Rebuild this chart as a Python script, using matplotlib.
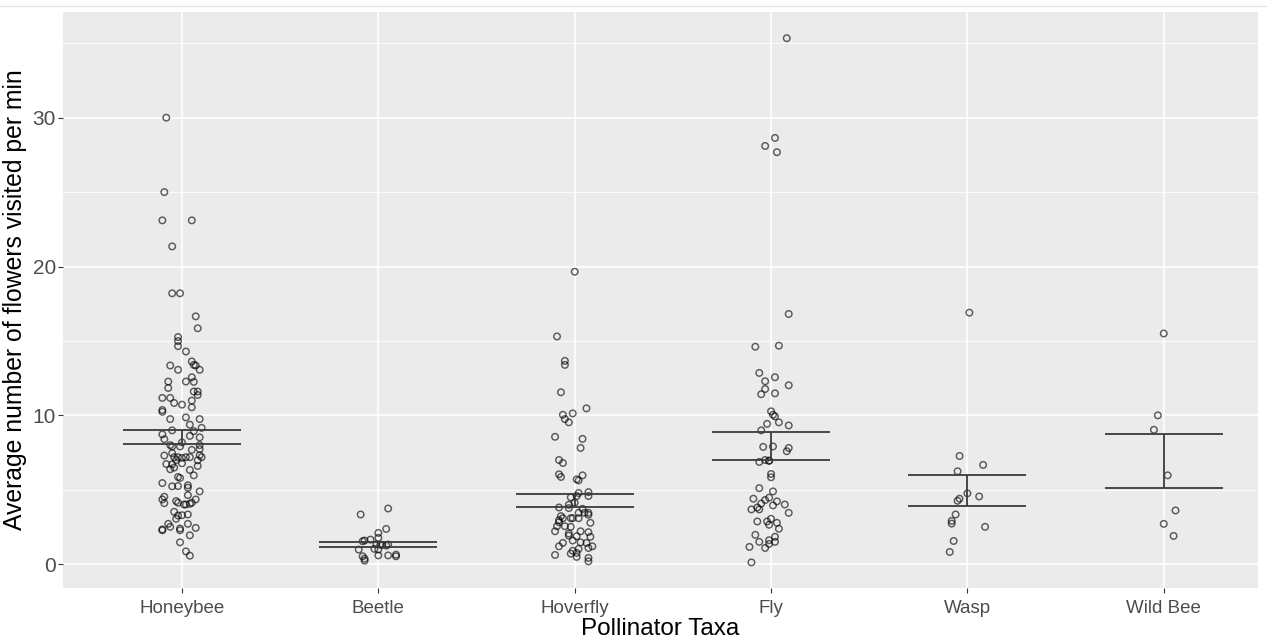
import numpy as np
import matplotlib
matplotlib.use("Agg")
import matplotlib.pyplot as plt
from matplotlib.lines import Line2D

# ---------------- data ----------------
categories = ["Honeybee", "Beetle", "Hoverfly", "Fly", "Wasp", "Wild Bee"]

honeybee = [30.0, 25.0, 23.1, 23.1, 21.35, 18.2, 18.2, 16.65, 15.85, 15.26, 14.99, 14.65,
            14.29, 13.62, 13.39, 13.35, 13.35, 13.06, 13.06, 12.56, 12.27, 11.84, 12.27, 12.25,
            11.6, 11.6, 11.37, 11.17, 11.17, 10.83, 10.72, 10.99, 10.54, 10.36, 10.24, 9.75,
            9.86, 9.75, 9.37, 9.16, 8.99, 8.72, 8.40, 8.94, 8.62, 8.52, 8.18, 8.0, 7.91, 7.91,
            8.0, 7.73, 7.68, 7.30, 7.46, 7.19, 7.19, 7.14, 7.19, 7.19, 7.32, 7.19, 6.98, 7.0,
            6.78, 6.71, 6.73, 6.60, 6.38, 6.49, 6.33, 5.97, 5.86, 5.79, 5.45, 5.23, 5.25, 5.30,
            5.14, 4.89, 4.64, 4.53, 4.35, 4.10, 4.24, 4.13, 4.01, 4.01, 4.06, 4.13, 4.35, 3.52,
            3.05, 3.27, 3.29, 3.34, 2.71, 2.51, 2.33, 2.28, 2.40, 2.28, 2.71, 2.44, 1.94, 1.47,
            0.86, 0.57]
honeybee_jit = [-0.08, -0.09, -0.10, 0.05, -0.05, -0.05, -0.01, 0.07, 0.08, -0.02, -0.02, -0.02,
                0.02, 0.05, 0.06, 0.07, -0.06, -0.02, 0.09, 0.05, -0.07, -0.07, 0.02, 0.06,
                0.06, 0.08, 0.08, -0.10, -0.06, -0.04, 0.0, 0.05, 0.05, -0.10, -0.10, -0.06,
                0.02, 0.09, 0.04, 0.10, -0.05, -0.10, -0.09, 0.06, 0.04, 0.09, 0.0, -0.06, -0.05, -0.01,
                0.09, 0.09, 0.05, -0.09, -0.05, -0.04, -0.02, 0.0, 0.02, 0.04, 0.09, 0.10, 0.08, -0.03,
                0.0, -0.05, -0.08, 0.08, -0.06, -0.04, 0.04, 0.06, -0.02, -0.01, -0.10, -0.05, -0.02, 0.03,
                0.03, 0.09, 0.03, -0.09, -0.10, -0.09, -0.03, -0.02, 0.01, 0.02, 0.04, 0.05, 0.07, -0.04,
                -0.03, -0.02, 0.0, 0.03, -0.07, -0.06, -0.10, -0.10, -0.01, -0.01, 0.03, 0.07, 0.04, -0.01,
                0.02, 0.04]

beetle = [3.34, 3.74, 2.1, 2.37, 1.77, 1.65, 1.54, 1.59, 1.34, 1.30, 1.30, 1.25, 1.32, 0.98,
          1.03, 0.98, 0.53, 0.37, 0.24, 0.59, 0.59, 0.64, 0.53]
beetle_jit = [-0.09, 0.05, 0.0, 0.04, 0.0, -0.04, -0.08, -0.07, -0.01, 0.01, 0.02, 0.04, 0.05, -0.10,
              -0.02, 0.0, -0.08, -0.07, -0.07, 0.0, 0.05, 0.09, 0.09]

hoverfly = [19.65, 15.3, 13.66, 13.39, 11.55, 10.47, 10.04, 9.75, 10.13, 9.53, 8.56, 8.42, 7.81,
            7.0, 6.80, 6.04, 5.86, 5.70, 5.63, 5.97, 4.78, 4.84, 4.58, 4.49, 4.58, 3.81, 3.99,
            3.77, 4.13, 3.72, 3.45, 3.45, 3.45, 3.23, 3.09, 2.96, 2.82, 3.09, 3.09, 3.09, 3.32,
            2.78, 2.21, 2.55, 2.55, 2.51, 2.21, 2.15, 2.06, 1.92, 1.88, 1.84, 1.59, 1.47, 1.43,
            1.20, 1.43, 1.20, 1.03, 1.09, 0.71, 0.76, 0.62, 0.42, 0.19, 0.49, 0.90]
hoverfly_jit = [0.0, -0.09, -0.05, -0.05, -0.07, 0.06, -0.06, -0.05, -0.01, -0.03, -0.10, 0.04, 0.03,
                -0.08, -0.06, -0.08, -0.07, 0.01, 0.02, 0.04, 0.02, 0.07, 0.07, -0.02, 0.01, -0.08, -0.03,
                -0.03, 0.0, 0.04, 0.07, 0.05, 0.02, -0.07, -0.06, -0.08, -0.08, -0.02, -0.01, 0.02, 0.07,
                0.08, -0.10, -0.09, -0.05, -0.02, 0.03, 0.07, -0.03, -0.03, 0.01, 0.08, -0.01, 0.03, 0.06,
                0.09, -0.06, -0.08, 0.02, 0.07, -0.02, 0.01, -0.10, 0.07, 0.07, 0.01, -0.01]

fly = [35.34, 28.64, 27.68, 28.1, 16.81, 14.61, 14.68, 12.85, 12.56, 12.29, 12.02, 11.77, 11.42,
       11.48, 10.27, 10.04, 9.93, 9.43, 9.53, 9.32, 8.99, 7.88, 7.91, 7.81, 7.59, 6.87, 7.0, 6.94,
       6.96, 6.06, 5.84, 5.11, 4.89, 4.40, 4.31, 4.47, 4.22, 4.01, 3.45, 3.68, 3.81, 3.68, 4.08,
       3.95, 2.87, 2.87, 2.65, 2.78, 2.38, 3.05, 1.97, 1.50, 1.16, 1.09, 1.61, 1.84, 1.50, 1.36, 0.12]
fly_jit = [0.08, 0.02, 0.03, -0.03, 0.09, -0.08, 0.04, -0.06, 0.02, -0.03, 0.09, -0.03, -0.05,
           0.02, 0.0, 0.01, 0.02, -0.02, 0.04, 0.09, -0.05, -0.04, 0.01, 0.09, 0.08, -0.06, -0.03, -0.01,
           -0.01, 0.0, 0.0, -0.06, 0.01, -0.09, -0.03, -0.01, 0.03, 0.07, 0.09, -0.10, -0.07, -0.06, -0.05,
           0.01, -0.07, -0.02, -0.01, 0.03, 0.04, 0.0, -0.08, -0.06, -0.11, -0.03, -0.01, 0.02, 0.02, -0.01, -0.10]

wasp = [16.9, 7.27, 6.67, 6.24, 4.76, 4.55, 4.40, 4.26, 3.34, 2.91, 2.73, 2.51, 1.56, 0.82]
wasp_jit = [0.01, -0.04, 0.08, -0.05, 0.0, 0.06, -0.04, -0.05, -0.06, -0.08, -0.08, 0.09, -0.07, -0.09]

wild_bee = [15.5, 10.0, 9.03, 5.97, 3.61, 2.71, 1.90]
wild_bee_jit = [0.0, -0.03, -0.05, 0.02, 0.06, 0.0, 0.05]

err_low = [8.08, 1.13, 3.83, 7.0, 3.88, 5.12]
err_high = [9.0, 1.50, 4.69, 8.85, 5.99, 8.78]

y_ticks = [0, 10, 20, 30]
x_label = "Pollinator Taxa"
y_label = "Average number of flowers visited per min"

# ---------------- plot ----------------
plt.rcParams['font.family'] = ['Liberation Sans', 'DejaVu Sans']
fig = plt.figure(figsize=(12.72, 6.4), dpi=100)
W, H = 1272, 640
ax = fig.add_axes([63 / W, (H - 588) / H, (1258 - 63) / W, (588 - 12) / H])
ax.set_facecolor('#EBEBEB')
for s in ax.spines.values():
    s.set_visible(False)

positions = np.arange(1, len(categories) + 1)
ax.set_xlim(0.394, 6.48)
ax.set_ylim(-1.6, 37.1)

# grid
ax.set_yticks(y_ticks)
ax.set_yticks([5, 15, 25, 35], minor=True)
ax.set_xticks(positions)
ax.set_xticklabels(categories)
ax.grid(which='major', color='white', linewidth=1.2, zorder=0)
ax.grid(which='minor', axis='y', color='white', linewidth=0.6, zorder=0)
ax.set_axisbelow(True)
ax.tick_params(which='major', length=3.5, width=0.8, color='#333333',
               labelcolor='#4D4D4D')
ax.tick_params(axis='x', labelsize=13.5, pad=5)
ax.tick_params(axis='y', labelsize=15, pad=1.5)
ax.tick_params(which='minor', length=0)

groups = [(honeybee, honeybee_jit), (beetle, beetle_jit), (hoverfly, hoverfly_jit),
          (fly, fly_jit), (wasp, wasp_jit), (wild_bee, wild_bee_jit)]
for pos, (vals, jit) in zip(positions, groups):
    xs = pos + np.array(jit)
    ax.scatter(xs, vals, s=22, facecolors='none', edgecolors=(0, 0, 0, 0.62),
               linewidths=1.05, zorder=3)

# error bars
half = 0.3
for pos, lo, hi in zip(positions, err_low, err_high):
    ax.hlines([lo, hi], pos - half, pos + half, color='#3a3a3a', linewidth=1.3, zorder=4)
    ax.vlines(pos, lo, hi, color='#3a3a3a', linewidth=1.3, zorder=4)

ax.set_xlabel(x_label, fontsize=17.5, color='black', labelpad=1)
ax.set_ylabel(y_label, fontsize=17.8, color='black', labelpad=4)

# faint top rule from the screenshot
fig.add_artist(Line2D([0, 0.995], [1 - 6 / H, 1 - 6 / H], color='#E6E6E6', linewidth=1))

fig.savefig('out.png', dpi=100, facecolor='white')
